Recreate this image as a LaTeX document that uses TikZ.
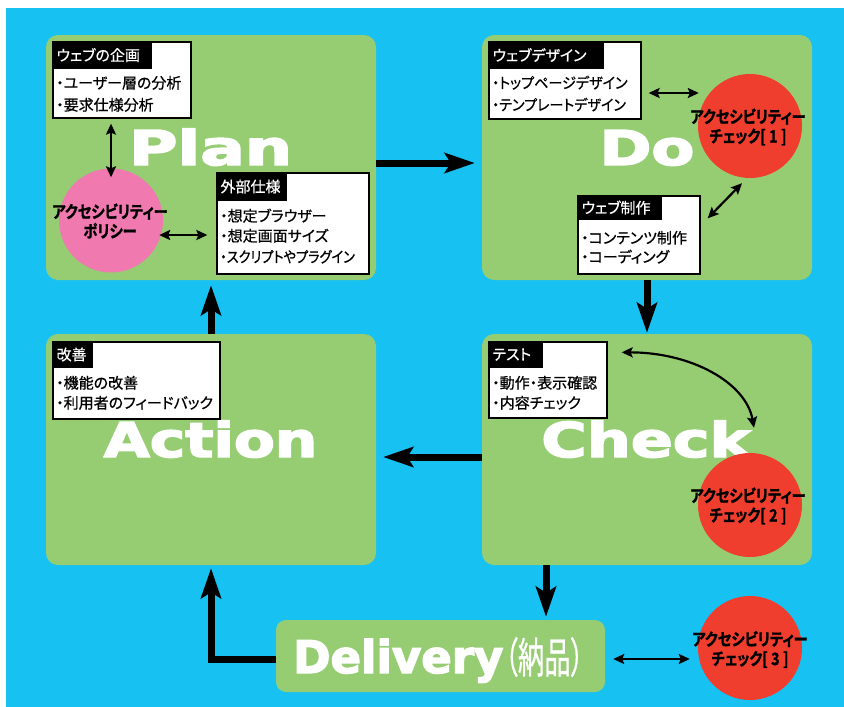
\documentclass[tikz,border=0pt]{standalone}
\usepackage{fontspec}
\usepackage{graphicx}
\usetikzlibrary{arrows.meta,calc}
\setmainfont{Noto Sans CJK JP}[RawFeature=+palt]
\newfontfamily\jp{Noto Sans CJK JP}[RawFeature=+palt, FakeBold=0.7]
\newfontfamily\jpcond{Noto Sans CJK JP Bold}[RawFeature=+palt, FakeStretch=0.84, FakeBold=1.2]
\newfontfamily\heavy{DejaVu Sans Bold}[FakeBold=3]
\definecolor{bg}{HTML}{17C1F2}
\definecolor{stagegreen}{HTML}{96CD73}
\definecolor{pinkc}{HTML}{F07AAF}
\definecolor{redc}{HTML}{EF3E2E}
\newcommand{\hdtext}[2]{\makebox[#1][l]{#2}}
\newcommand{\chknum}[1]{[\hspace{3.5pt}#1\hspace{3.5pt}]}
\begin{document}
\begin{tikzpicture}[x=1pt,y=-1pt,
  stage/.style={fill=stagegreen, rounded corners=12pt, inner sep=0pt},
  infobox/.style={draw=black, line width=1.3pt, fill=white, inner sep=0pt},
  headbar/.style={fill=black, text=white, inner xsep=4pt, inner ysep=0pt, anchor=north west, font=\jp\fontsize{15}{15}\selectfont},
  item/.style={anchor=base west, inner sep=0pt, font=\jp\fontsize{15}{15}\selectfont},
  circ/.style={circle, inner sep=0pt, minimum size=104pt},
  circtext/.style={align=center, inner sep=0pt, font=\jpcond\fontsize{17}{19.5}\selectfont},
  bigtext/.style={anchor=base, inner sep=0pt, text=white, font=\heavy\fontsize{48}{48}\selectfont},
  bigarrow/.style={line width=7pt, -{Stealth[length=30pt,width=20pt,inset=6pt]}},
  thinarrow/.style={line width=2.2pt, {Stealth[length=11pt,width=10pt,inset=2pt]}-{Stealth[length=11pt,width=10pt,inset=2pt]}}
]
\useasboundingbox (0,0) rectangle (844,707);
\fill[bg] (6,8) rectangle (844,707);

% stages
\node[stage, minimum width=330pt, minimum height=245pt] (plan) at (211,157.5) {};
\node[stage, minimum width=330pt, minimum height=245pt] (do) at (647,157.5) {};
\node[stage, minimum width=330pt, minimum height=231pt] (action) at (211,449.5) {};
\node[stage, minimum width=330pt, minimum height=231pt] (check) at (647,449.5) {};
\node[stage, minimum width=329pt, minimum height=72pt, rounded corners=10pt] (delivery) at (440.5,656) {};

% big labels
\node[bigtext] (plantxt) at (210.5,165) {\scalebox{1.38}[1]{Plan}};
\node[bigtext] (dotxt) at (647,165) {\scalebox{1.3}[1]{Do}};
\node[bigtext] (actiontxt) at (210.5,457) {\scalebox{1.24}[1]{Action}};
\node[bigtext] (checktxt) at (646,457) {\scalebox{1.29}[1]{Check}};
\node[bigtext, anchor=base west, font=\heavy\fontsize{45}{45}\selectfont] (delivtxt) at (293,673) {Delivery};
\node[anchor=base west, inner sep=0pt, text=white, font=\jp\fontsize{40}{40}\selectfont] (nohin) at ($(delivtxt.base east)+(1,0)$) {\scalebox{0.66}[1.05]{（納品）}};

% info boxes
\node[infobox, minimum width=138pt, minimum height=76pt] (kikaku) at (122,80) {};
\node[headbar, minimum height=27pt] (kikakuh) at (kikaku.north west) {\hdtext{91pt}{ウェブの企画}};
\node[item] (k1) at (56,88.5) {・ユーザー層の分析};
\node[item] (k2) at (56,110.5) {・要求仕様分析};

\node[infobox, minimum width=152pt, minimum height=101pt] (gaibu) at (293,223.5) {};
\node[headbar, minimum height=28pt] (gaibuh) at (gaibu.north west) {\hdtext{62pt}{外部仕様}};
\node[item] (g1) at (220,221.5) {・想定ブラウザー};
\node[item] (g2) at (220,241.5) {・想定画面サイズ};
\node[item] (g3) at (220,262.5) {\scalebox{0.88}[1]{・スクリプトやプラグイン}};

\node[infobox, minimum width=152pt, minimum height=77pt] (design) at (565,80.5) {};
\node[headbar, minimum height=27pt] (designh) at (design.north west) {\hdtext{107pt}{ウェブデザイン}};
\node[item] (d1) at (492,88.5) {\scalebox{0.94}[1]{・トップページデザイン}};
\node[item] (d2) at (492,110.5) {\scalebox{0.94}[1]{・テンプレートデザイン}};

\node[infobox, minimum width=122pt, minimum height=78pt] (seisaku) at (639,235) {};
\node[headbar, minimum height=24pt] (seisakuh) at (seisaku.north west) {\hdtext{76pt}{ウェブ制作}};
\node[item] (s1) at (581,243.5) {・コンテンツ制作};
\node[item] (s2) at (581,262.5) {・コーディング};

\node[infobox, minimum width=118pt, minimum height=76pt] (test) at (548,380) {};
\node[headbar, minimum height=26pt] (testh) at (test.north west) {\hdtext{46pt}{テスト}};
\node[item] (t1) at (492,388.5) {・動作・表示確認};
\node[item] (t2) at (492,408.5) {・内容チェック};

\node[infobox, minimum width=167pt, minimum height=77pt] (kaizen) at (136.5,380.5) {};
\node[headbar, minimum height=26pt] (kaizenh) at (kaizen.north west) {\hdtext{32pt}{改善}};
\node[item] (a1) at (56,388.5) {・機能の改善};
\node[item] (a2) at (56,408.5) {・利用者のフィードバック};

% circles
\node[circ, fill=pinkc] (policy) at (111,220.5) {};
\node[circtext] (policytxt) at (110,221) {アクセシビリティー\\ポリシー};
\node[circ, fill=redc] (chk1) at (750,126) {};
\node[circtext] (chk1txt) at (748,127) {アクセシビリティー\\チェック\chknum{1}};
\node[circ, fill=redc] (chk2) at (750,505) {};
\node[circtext] (chk2txt) at (748,506) {アクセシビリティー\\チェック\chknum{2}};
\node[circ, fill=redc] (chk3) at (750,648) {};
\node[circtext] (chk3txt) at (750,649.5) {アクセシビリティー\\チェック\chknum{3}};

% big arrows
\draw[bigarrow, shorten >=7pt] ($(plan.east)+(0,5.5)$) -- ($(do.west)+(0,5.5)$);
\draw[bigarrow, shorten >=1pt] (do.south) -- (check.north);
\draw[bigarrow, shorten >=7pt] ($(check.west)+(0,7.5)$) -- ($(action.east)+(0,7.5)$);
\draw[bigarrow, shorten >=5pt] (action.north) -- (plan.south);
\draw[bigarrow, shorten >=3pt] ($(check.south)+(-101,0)$) -- ($(check.south |- delivery.north)+(-101,0)$);
\draw[bigarrow, shorten >=3pt] ($(delivery.west)+(0,3)$) -| (action.south);

% thin arrows
\draw[thinarrow] ($(kikaku.south -| policy.north)+(0,5)$) -- ($(policy.north)+(0,9)$);
\draw[thinarrow] ($(policy.east)+(-4,14.5)$) -- ($(gaibu.west)+(-9,11.5)$);
\draw[thinarrow] ($(design.east)+(7,12.5)$) -- ($(chk1.west)+(1,-33)$);
\draw[thinarrow] ($(seisaku.north east)+(7,23)$) -- ($(chk1.south)+(-8,5)$);
\draw[thinarrow] ($(test.north east)+(14,11)$) .. controls +(70,0) and +(-8,-45) .. ($(chk2.north)+(4,-25)$);
\draw[thinarrow] ($(delivery.east)+(8,3)$) -- ($(chk3.west)+(-8,11)$);
\end{tikzpicture}
\end{document}
